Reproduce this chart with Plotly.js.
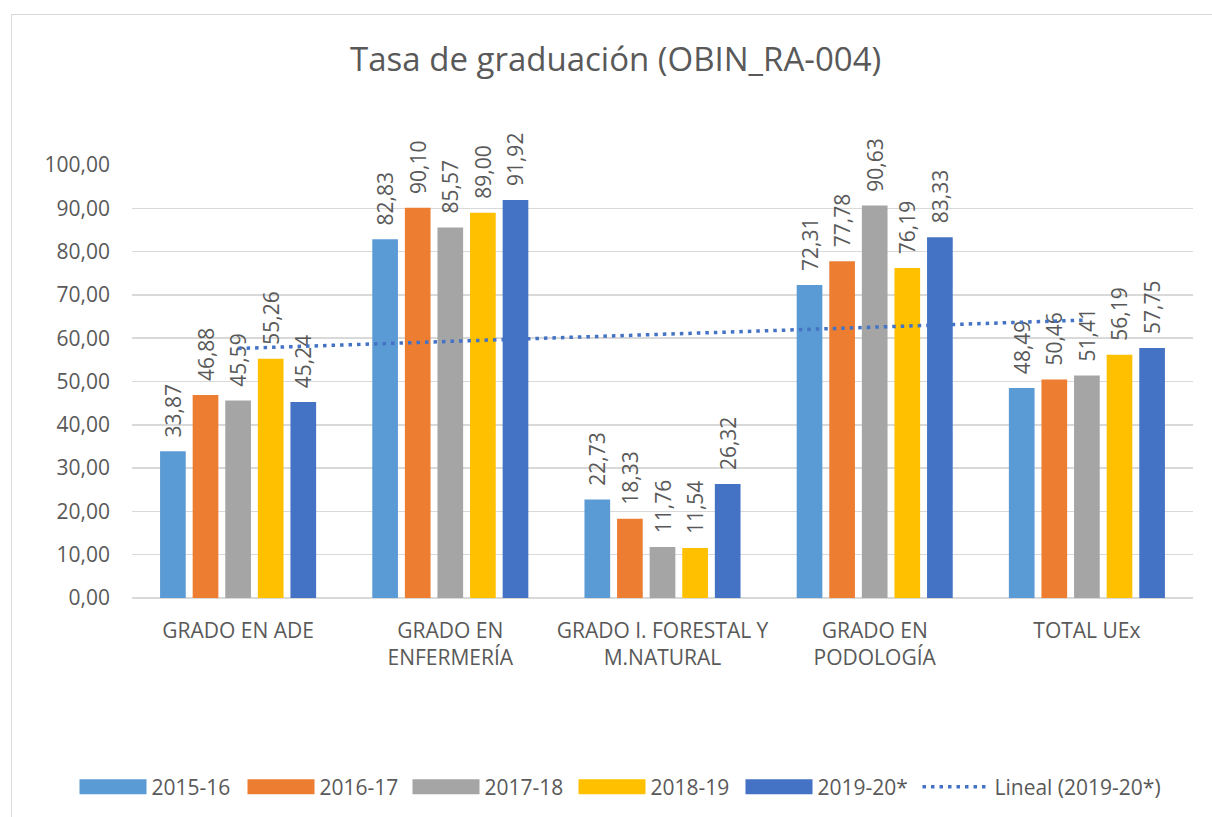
<!DOCTYPE html>
<html>
<head>
<meta charset="utf-8">
<script src="https://cdn.plot.ly/plotly-3.0.1.min.js"></script>
<style>
  html, body { margin: 0; padding: 0; background: #fff; }
  #wrap { position: relative; width: 1212px; height: 817px; overflow: hidden; }
  #chart { width: 1212px; height: 817px; }
  #frame { position: absolute; left: 11px; top: 14px; width: 1220px; height: 830px;
           border: 1.5px solid #d9d9d9; pointer-events: none; box-sizing: border-box; }
</style>
</head>
<body>
<div id="wrap">
  <div id="chart"></div>
  <div id="frame"></div>
</div>
<script>
const categories = ["GRADO EN ADE", "GRADO EN<br>ENFERMERÍA", "GRADO I. FORESTAL Y<br>M.NATURAL", "GRADO EN<br>PODOLOGÍA", "TOTAL UEx"];
const seriesNames = ["2015-16", "2016-17", "2017-18", "2018-19", "2019-20*"];
const s2015 = [33.87, 82.83, 22.73, 72.31, 48.49];
const s2016 = [46.88, 90.10, 18.33, 77.78, 50.46];
const s2017 = [45.59, 85.57, 11.76, 90.63, 51.41];
const s2018 = [55.26, 89.00, 11.54, 76.19, 56.19];
const s2019 = [45.24, 91.92, 26.32, 83.33, 57.75];
const colors = ["#5B9BD5", "#ED7D31", "#A5A5A5", "#FFC000", "#4472C4"];
const yTicks = [0, 10, 20, 30, 40, 50, 60, 70, 80, 90, 100];

const fmt = v => v.toFixed(2).replace(".", ",");
const allSeries = [s2015, s2016, s2017, s2018, s2019];
const font = "'Open Sans', 'Noto Sans', sans-serif";
const grey = "#595959";
const legendWidths = [86, 83, 84, 85, 95];

const traces = allSeries.map((vals, i) => ({
  type: "bar",
  name: seriesNames[i],
  x: categories,
  y: vals,
  marker: { color: colors[i] },
  text: vals.map(v => "\u00a0\u00a0" + fmt(v)),
  textposition: "outside",
  textangle: -90,
  constraintext: "none",
  cliponaxis: false,
  textfont: { family: font, size: 21, color: grey },
  legendwidth: legendWidths[i],
  hoverinfo: "x+y"
}));

// Linear trendline (least squares) for 2019-20*
const n = s2019.length;
const xs = s2019.map((_, i) => i + 1);
const mx = xs.reduce((a, b) => a + b, 0) / n;
const my = s2019.reduce((a, b) => a + b, 0) / n;
let num = 0, den = 0;
for (let i = 0; i < n; i++) { num += (xs[i] - mx) * (s2019[i] - my); den += (xs[i] - mx) ** 2; }
const slope = num / den, intercept = my - slope * mx;
traces.push({
  type: "scatter",
  mode: "lines",
  name: "Lineal (2019-20*)",
  x: categories,
  y: xs.map(x => intercept + slope * x),
  line: { color: "#4472C4", width: 3.5, dash: "3.5px,5px" },
  hoverinfo: "skip"
});

const layout = {
  width: 1212, height: 817,
  margin: { l: 132, r: 19, t: 165, b: 219, autoexpand: false },
  paper_bgcolor: "#ffffff",
  plot_bgcolor: "#ffffff",
  font: { family: font, color: grey, size: 21 },
  title: { text: "Tasa de graduación (OBIN_RA-004)", x: 0.508, xanchor: "center", y: 0.927, yanchor: "middle",
           font: { family: font, size: 33, color: grey } },
  barmode: "group",
  bargap: 0.232,
  bargroupgap: 0.212,
  xaxis: {
    type: "category",
    showgrid: false, showline: false, zeroline: false,
    ticks: "", ticklabelstandoff: 18,
    tickfont: { family: font, size: 21, color: grey },
    automargin: false
  },
  yaxis: {
    range: [0, 100],
    tickvals: yTicks,
    ticktext: yTicks.map(fmt),
    showgrid: true, gridcolor: "#d9d9d9", gridwidth: 1.5,
    zeroline: true, zerolinecolor: "#d9d9d9", zerolinewidth: 1.5,
    showline: false, ticks: "", ticklabelstandoff: 21,
    tickfont: { family: font, size: 21, color: grey },
    automargin: false
  },
  showlegend: true,
  legend: {
    orientation: "h", x: -0.0542, xanchor: "left", y: -0.437, yanchor: "middle",
    font: { family: font, size: 21, color: grey },
    traceorder: "normal", itemwidth: 67
  }
};

Plotly.newPlot("chart", traces, layout, { displayModeBar: false, staticPlot: true }).then(gd => {
  // widen bar legend swatches to Excel-like rectangles
  gd.querySelectorAll(".legend .traces").forEach((g, i) => {
    if (i < 5) {
      g.querySelectorAll(".legendpoints path").forEach(p => p.setAttribute("d", "M33.5,7.5H-33.5V-7.5H33.5Z"));
    }
  });
});
</script>
</body>
</html>
